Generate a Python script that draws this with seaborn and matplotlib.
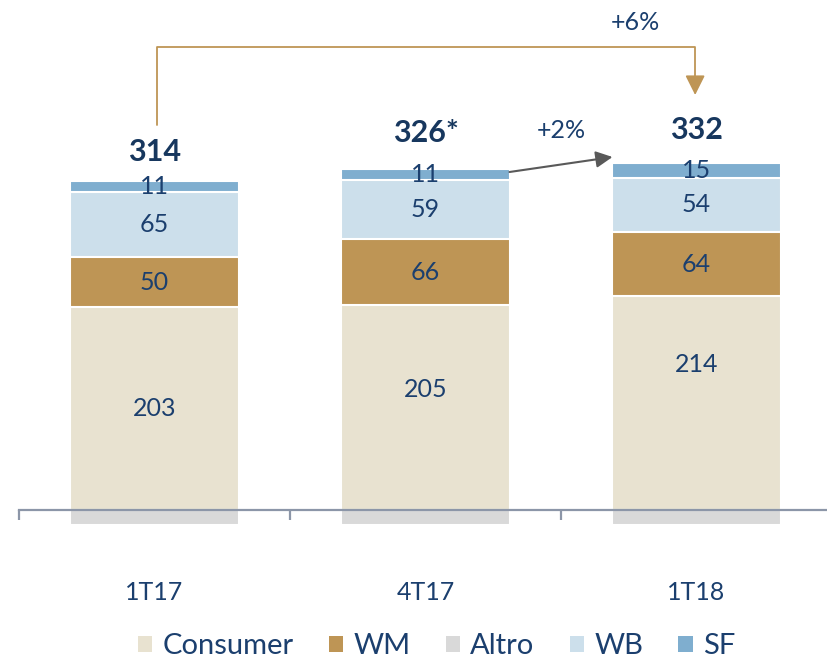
import matplotlib.pyplot as plt
import seaborn as sns
import pandas as pd
import numpy as np
from matplotlib.patches import Patch

# values
periods = ['1T17', '4T17', '1T18']
consumer = [203, 205, 214]
wm = [50, 66, 64]
altro = [-15, -15, -15]
wb = [65, 59, 54]
sf = [11, 11, 15]
total_labels = ['314', '326*', '332']
growth_labels = ['+2%', '+6%']

colors = {'Consumer': '#E8E2D0', 'WM': '#BE9555', 'Altro': '#D9D9D9',
          'WB': '#CCDFEB', 'SF': '#7FAECF'}
navy = '#1B3F6E'

sns.set_style('white')
plt.rcParams['font.family'] = ['Lato', 'DejaVu Sans']

df = pd.DataFrame({'period': periods, 'Consumer': consumer, 'WM': wm,
                   'Altro': altro, 'WB': wb, 'SF': sf})
stack = ['Consumer', 'WM', 'WB', 'SF']
cum = df[stack].cumsum(axis=1)
tops = cum['SF'].values
totals = tops + df['Altro'].values

fig = plt.figure(figsize=(8.27, 6.61), dpi=100)
ax = fig.add_axes([19 / 827, 0, 813 / 827, 1])

# draw cumulative bars from the top layer down so each covers the one behind
for name in reversed(stack):
    sns.barplot(x=df['period'], y=cum[name], color=colors[name], width=0.62,
                edgecolor='white', linewidth=1.5, saturation=1, ax=ax)
sns.barplot(x=df['period'], y=df['Altro'], color=colors['Altro'], width=0.62,
            edgecolor='white', linewidth=1.5, saturation=1, ax=ax)

ax.set_xlim(-0.5, 2.5)
ax.set_ylim(-151, 510)
ax.set_xlabel('')
ax.set_ylabel('')
ax.set_yticks([])
for s in ['left', 'right', 'top']:
    ax.spines[s].set_visible(False)
ax.spines['bottom'].set_position(('data', 0))
ax.spines['bottom'].set_color('#8C96A8')
ax.spines['bottom'].set_linewidth(1.6)
ax.set_xticks([-0.5, 0.5, 1.5, 2.5])
ax.set_xticklabels([])
ax.tick_params(axis='x', bottom=True, direction='out', length=7, width=1.6,
               color='#8C96A8')

for i, p in enumerate(periods):
    ax.text(i, -82, p, ha='center', va='center', fontsize=18, color=navy)

# segment labels
consumer_shift = [0, 18, 39]
for i in range(len(periods)):
    base = 0
    for name in stack:
        v = df[name][i]
        y = base + v / 2
        if name == 'Consumer':
            y += consumer_shift[i]
        ax.text(i, y, str(v), ha='center', va='center', fontsize=18, color=navy)
        base += v

# totals
total_off = [29, 36, 33]
for i, t in enumerate(total_labels):
    ax.text(i, tops[i] + total_off[i], t, ha='center', va='center',
            fontsize=22, fontweight='bold', color='#17375E')

# +2% arrow between 4T17 and 1T18
ax.annotate('', xy=(1.69, tops[2] + 6), xytext=(1.31, tops[1] - 3),
            arrowprops=dict(arrowstyle='-|>', color='#595959', lw=1.5,
                            mutation_scale=25, shrinkA=0, shrinkB=0))
ax.text(1.5, 379, growth_labels[0], ha='center', va='center', fontsize=18, color=navy)

# +6% elbow arrow from 1T17 to 1T18
gold = '#BE9555'
top_y = max(tops) + 116
ax.plot([0.01, 0.01, 1.995, 1.995], [totals[0] + 71, top_y, top_y, totals[2] + 98],
        color=gold, lw=1.3)
ax.annotate('', xy=(1.995, totals[2] + 83), xytext=(1.995, totals[2] + 100),
            arrowprops=dict(arrowstyle='-|>', color=gold, lw=1.3,
                            mutation_scale=30, shrinkA=0, shrinkB=0))
ax.text(1.773, 488, growth_labels[1], ha='center', va='center', fontsize=18, color=navy)

handles = [Patch(facecolor=colors[n], edgecolor='none') for n in
           ['Consumer', 'WM', 'Altro', 'WB', 'SF']]
fig.legend(handles, ['Consumer', 'WM', 'Altro', 'WB', 'SF'], ncol=5,
           loc='center', bbox_to_anchor=(0.528, 0.022), frameon=False,
           fontsize=21, labelcolor=navy, handlelength=0.5, handleheight=0.5,
           handletextpad=0.35, columnspacing=1.2)

fig.savefig('out.png', dpi=100)
